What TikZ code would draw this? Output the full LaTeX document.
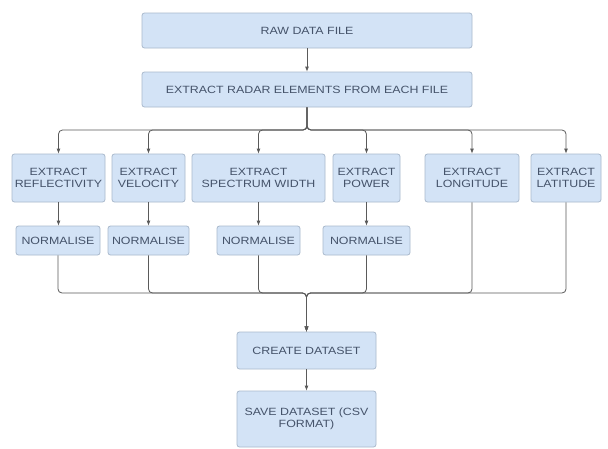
\documentclass[tikz,border=0pt]{standalone}
\usepackage{fontspec}
\setmainfont{Liberation Sans}[FakeStretch=1.18]
\usetikzlibrary{arrows.meta}
\definecolor{boxfill}{HTML}{D3E3F6}
\definecolor{boxline}{HTML}{A9B9CC}
\definecolor{txt}{HTML}{45536A}
\definecolor{conn}{HTML}{5A5A5A}
\tikzset{
  stepbox/.style={draw=boxline, fill=boxfill, rounded corners=2.5pt, line width=0.8pt,
    text=txt, align=center, inner sep=0pt, font=\fontsize{10.5}{12.5}\selectfont},
  link/.style={draw=conn, line width=0.8pt, rounded corners=4pt},
  arr/.style={link, -{Latex[length=5pt,width=4pt]}}
}
\begin{document}
\begin{tikzpicture}[x=1pt,y=-1pt]
\useasboundingbox (0,0) rectangle (608,448);
\fill[white] (0,0) rectangle (608,448);
\node[stepbox, minimum width=330pt, minimum height=35pt] (raw) at (307,30.5) {RAW DATA FILE};
\node[stepbox, minimum width=330pt, minimum height=35pt] (ext) at (307,89.5) {EXTRACT RADAR ELEMENTS FROM EACH FILE};
\node[stepbox, minimum width=93pt, minimum height=48pt] (refl) at (58.5,178) {EXTRACT\\REFLECTIVITY};
\node[stepbox, minimum width=73pt, minimum height=48pt] (vel) at (148.5,178) {EXTRACT\\VELOCITY};
\node[stepbox, minimum width=133pt, minimum height=48pt] (spec) at (258.5,178) {EXTRACT\\SPECTRUM WIDTH};
\node[stepbox, minimum width=67pt, minimum height=48pt] (pow) at (366.5,178) {EXTRACT\\POWER};
\node[stepbox, minimum width=94pt, minimum height=48pt] (lon) at (472,178) {EXTRACT\\LONGITUDE};
\node[stepbox, minimum width=70pt, minimum height=48pt] (lat) at (566,178) {EXTRACT\\LATITUDE};
\node[stepbox, minimum width=84pt, minimum height=29pt] (n1) at (58,240.5) {NORMALISE};
\node[stepbox, minimum width=81pt, minimum height=29pt] (n2) at (148.5,240.5) {NORMALISE};
\node[stepbox, minimum width=83pt, minimum height=29pt] (n3) at (258.5,240.5) {NORMALISE};
\node[stepbox, minimum width=87pt, minimum height=29pt] (n4) at (366.5,240.5) {NORMALISE};
\node[stepbox, minimum width=139pt, minimum height=37pt] (cre) at (306.5,350.5) {CREATE DATASET};
\node[stepbox, minimum width=139pt, minimum height=56pt] (sav) at (306.5,419) {SAVE DATASET (CSV\\FORMAT)};
\coordinate (bt) at (307,130);
\coordinate (bb) at (306.5,293);
\draw[arr] (raw) -- (ext);
\foreach \t in {refl,vel,spec,pow,lon,lat}{
  \draw[arr] (ext.south) -- (bt) -| (\t.north);
}
\foreach \t in {refl,vel,spec,pow}{
  \draw[arr] (\t.south) -- (\t.south |- n1.north);
}
\foreach \t in {n1,n2,n3,n4,lon,lat}{
  \draw[arr] (\t.south) |- (bb) -- (cre.north);
}
\draw[arr] (cre) -- (sav);
\end{tikzpicture}
\end{document}
